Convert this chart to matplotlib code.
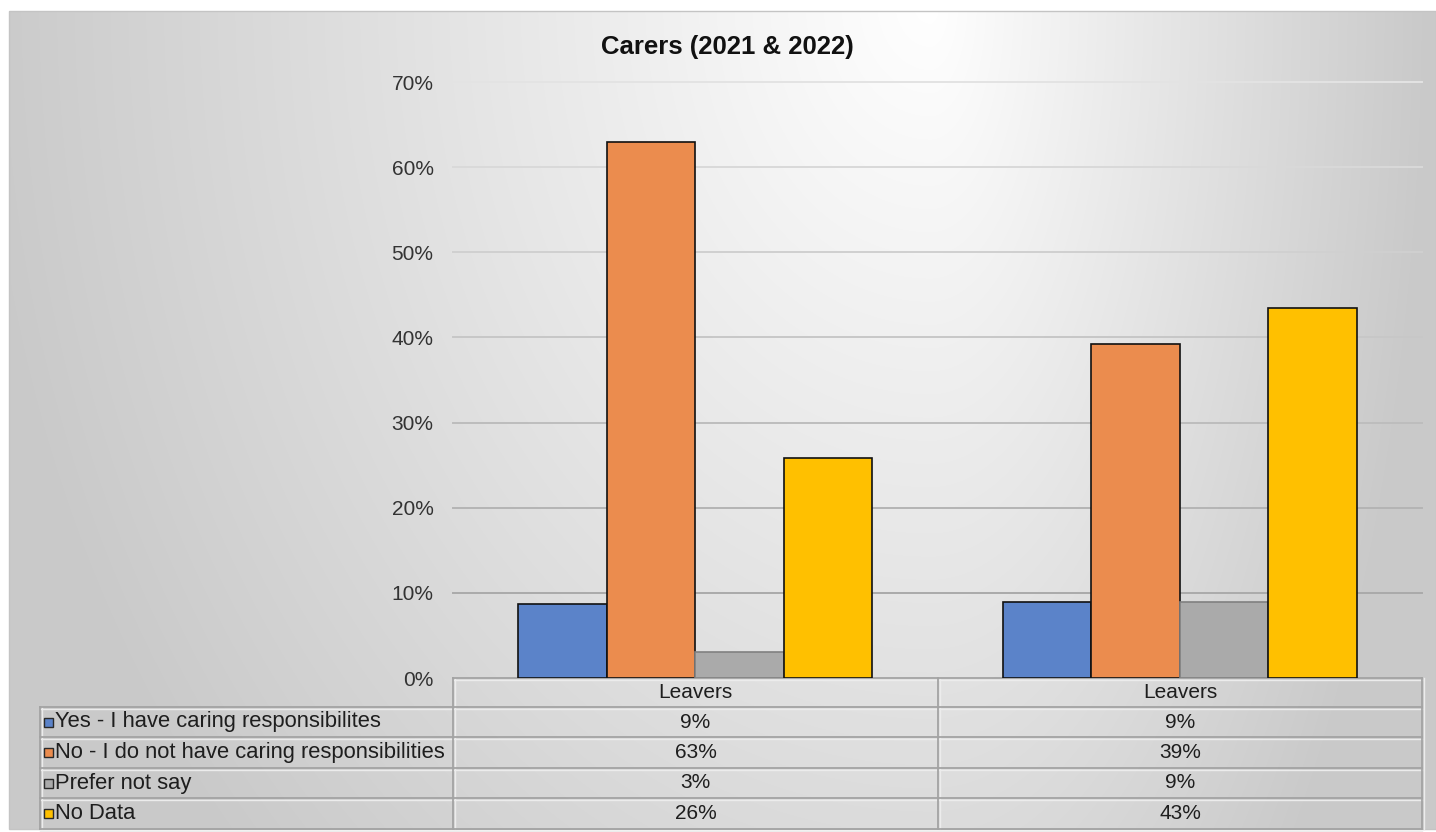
import numpy as np
import matplotlib
matplotlib.use("Agg")
import matplotlib.pyplot as plt
from matplotlib.patches import Rectangle

# ---- data -------------------------------------------------------------
categories = ["Leavers", "Leavers"]
series_names = [
    "Yes - I have caring responsibilites",
    "No - I do not have caring responsibilities",
    "Prefer not say",
    "No Data",
]
yes_caring = [8.7, 8.9]
no_caring = [62.9, 39.2]
prefer_not_say = [3.0, 8.9]
no_data = [25.8, 43.4]
y_ticks = [0, 10, 20, 30, 40, 50, 60, 70]
title = "Carers (2021 & 2022)"

series_values = [yes_caring, no_caring, prefer_not_say, no_data]
series_colors = ["#5b83c9", "#eb8c4e", "#aaaaaa", "#ffc000"]
series_edges = ["#111111", "#111111", "#808080", "#111111"]

# ---- figure -----------------------------------------------------------
W, H = 1436, 832
plt.rcParams["font.family"] = ["Liberation Sans", "DejaVu Sans"]
fig = plt.figure(figsize=(W / 100, H / 100), dpi=100)
fig.patch.set_facecolor("white")


def fx(px):
    return px / W


def fy(py):
    return 1 - py / H


# background panel with a soft light-to-grey gradient
bg = fig.add_axes([0, 0, 1, 1], zorder=0)
bg.axis("off")
yy, xx = np.mgrid[0:H, 0:W].astype(float)
dx = xx - 930
sx = np.where(dx < 0, 1000.0, 520.0)
r = np.sqrt((dx / sx) ** 2 + (yy / 1300.0) ** 2)
shade = np.clip(1.0 - 0.22 * r, 0.79, 1.0)
img = np.dstack([shade, shade, shade])
bg.imshow(img[11:829, 9:W], extent=(9, W, 829, 11), aspect="auto",
          interpolation="bilinear", zorder=0)
bg.set_xlim(0, W)
bg.set_ylim(H, 0)
bg.add_patch(Rectangle((9, 11), W - 9, 818, fill=False,
                       edgecolor="#c4c4c4", lw=1.0, zorder=1))

# ---- data table under the plot ----------------------------------------
row_edges = [678, 707, 737, 768, 798, 829]
x_left, x_lab, x_mid, x_right = 40, 453, 938, 1422
line_dark = "#a3a3a3"
line_light = "#ececec"
text_color = "#1e1e1e"
fs_tick = 15
fs_label = 15.8
fs_cell = 15


def hline(y, x0, x1):
    bg.plot([x0, x1], [y + 1.6, y + 1.6], color=line_light, lw=1.0, zorder=2)
    bg.plot([x0, x1], [y, y], color=line_dark, lw=1.3, zorder=3)


def vline(x, y0, y1):
    bg.plot([x + 1.6, x + 1.6], [y0, y1], color=line_light, lw=1.0, zorder=2)
    bg.plot([x, x], [y0, y1], color=line_dark, lw=1.3, zorder=3)


hline(row_edges[0], x_lab, x_right)
for y in row_edges[1:]:
    hline(y, x_left, x_right)
vline(x_left, row_edges[1], row_edges[-1])
for x in (x_lab, x_mid, x_right):
    vline(x, row_edges[0], row_edges[-1])

col_centers = [(x_lab + x_mid) / 2, (x_mid + x_right) / 2]
hy = (row_edges[0] + row_edges[1]) / 2
for cx, cat in zip(col_centers, categories):
    bg.text(cx, hy, cat, ha="center", va="center", fontsize=fs_cell,
            color=text_color, zorder=4)

for i, (name, vals, col) in enumerate(zip(series_names, series_values,
                                          series_colors)):
    yc = (row_edges[i + 1] + row_edges[i + 2]) / 2
    bg.add_patch(Rectangle((44, yc - 4.5), 9, 9, facecolor=col,
                           edgecolor="#2a2a2a", lw=1.0, zorder=4))
    bg.text(55, yc, name, ha="left", va="center", fontsize=fs_label,
            color=text_color, zorder=4)
    for cx, v in zip(col_centers, vals):
        bg.text(cx, yc, f"{v:.0f}%", ha="center", va="center",
                fontsize=fs_cell, color=text_color, zorder=4)

# title
fig.text(fx(727), fy(47), title, ha="center", va="center", fontsize=18.5,
         fontweight="bold", color="#111111", zorder=5)

# ---- bar chart --------------------------------------------------------
ax = fig.add_axes([fx(x_lab), fy(678), fx(x_right) - fx(x_lab),
                   (678 - 82) / H], zorder=2)
ax.patch.set_alpha(0)
ax.set_xlim(-0.5, len(categories) - 0.5)
ax.set_ylim(0, 70)
for s in ax.spines.values():
    s.set_visible(False)

for t in y_ticks[1:]:
    g = 0.63 + 0.26 * (t / 70)
    ax.axhline(t, color=(g, g, g), lw=1.4, zorder=0, clip_on=False)

bar_w = 0.1827
x = np.arange(len(categories))
for i, (vals, col, ec) in enumerate(zip(series_values, series_colors,
                                        series_edges)):
    ax.bar(x + (i - 1.5) * bar_w, vals, width=bar_w, color=col,
           edgecolor=ec, linewidth=1.2, zorder=3)

ax.set_xticks([])
ax.set_yticks(y_ticks)
ax.set_yticklabels([f"{t}%" for t in y_ticks], fontsize=fs_tick,
                   color="#333333")
ax.tick_params(axis="y", length=0, pad=14)

fig.savefig("out.png", dpi=100)
